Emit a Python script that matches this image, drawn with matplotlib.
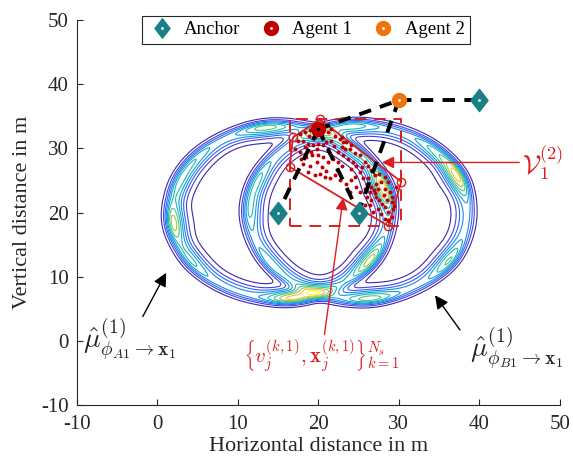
import numpy as np
import matplotlib.pyplot as plt
from matplotlib.colors import LinearSegmentedColormap
from matplotlib.path import Path
from matplotlib.lines import Line2D

plt.rcParams['font.family'] = ['Liberation Serif', 'DejaVu Serif']
plt.rcParams['mathtext.fontset'] = 'cm'
plt.rcParams['axes.unicode_minus'] = False

# node positions
anchor_x = [15, 25, 40]
anchor_y = [20, 20, 37.5]
agent1_xy = [20, 33]
agent2_xy = [30, 37.5]

# dashed measurement links
link_x = [[20, 15], [20, 25], [20, 30], [30, 25], [30, 40]]
link_y = [[33, 20], [33, 20], [33, 37.5], [37.5, 20], [37.5, 37.5]]

# ring shaped messages (centred on anchors A and B)
ring_cx = [15.3, 25]
ring_cy = [20, 20]
ring_R = [13.4, 13.5]
ringA_deg = [187, 160, 143, 98, 47, 17, 326, 277, 214]
ringA_w = [0.45, 0.2, 0.15, 0.35, 0.25, 0.6, 0.45, 0.55, 0.2]
ringB_deg = [25, 45, 94, 158, 178, 216, 276, 326]
ringB_w = [0.55, 0.2, 0.25, 0.2, 0.2, 0.15, 0.35, 0.3]

# convex hull of the particles of agent 1
hull_x = [20.2, 30.3, 28.7, 16.45, 16.85]
hull_y = [34.5, 24.8, 17.9, 27.1, 31.7]

# particles
part_x = [18.3, 19.0, 17.7, 21.2, 22.1, 22.9, 18.7, 19.4, 20.0, 20.6, 21.0, 21.6, 22.7, 23.1,
          23.5, 18.3, 19.8, 21.2, 24.1, 23.3, 17.9, 18.5, 19.2, 20.0, 20.6, 18.1, 19.0, 19.8,
          20.4, 21.2, 21.8, 22.5, 22.9, 18.7, 19.6, 20.2, 20.8, 21.4, 22.1, 22.7, 23.5, 24.1,
          24.7, 23.9, 25.2, 25.8, 22.5, 23.1, 23.7, 24.3, 24.7, 25.2, 24.5, 23.9, 24.5, 25.2,
          25.8, 26.2, 25.4, 26.6, 27.0, 27.6, 28.3, 28.7, 27.8, 27.2, 26.6, 27.4, 28.3, 28.9,
          28.1, 27.2, 26.6, 27.6, 28.5, 29.1, 28.3, 27.4, 26.8, 27.8, 28.7, 29.1, 26.4, 26.0,
          25.8, 28.3, 17.5, 17.1, 17.7, 19.6, 20.4, 18.1, 25.6, 26.2, 26.4, 27.0, 26.0, 29.1,
          29.3, 28.7, 21.9, 22.3, 19.1, 20.9, 24.0, 26.9, 27.9, 29.6, 29.4, 18.9, 21.6, 23.0]
part_y = [32.5, 32.8, 32.3, 32.5, 32.0, 31.8, 30.7, 30.5, 30.7, 30.5, 31.0, 31.2, 31.5, 31.0,
          31.0, 30.2, 29.9, 29.9, 30.5, 29.9, 28.4, 28.6, 28.9, 28.9, 28.6, 27.6, 27.3, 27.9,
          27.1, 27.9, 28.4, 27.9, 27.3, 26.3, 25.8, 26.0, 25.5, 25.3, 25.8, 25.0, 24.5, 25.0,
          24.0, 23.2, 23.2, 23.7, 29.4, 28.9, 28.4, 27.9, 27.3, 26.3, 25.5, 29.9, 29.2, 28.9,
          27.9, 27.3, 27.1, 26.6, 25.8, 26.0, 25.5, 24.7, 24.7, 24.5, 24.0, 23.7, 23.7, 23.2,
          22.7, 22.4, 21.9, 21.9, 21.9, 21.6, 20.8, 20.6, 20.1, 19.8, 20.1, 19.3, 21.1, 22.4,
          21.1, 19.0, 31.2, 29.9, 29.4, 31.7, 32.0, 31.2, 25.3, 25.3, 23.2, 23.0, 24.5, 22.4,
          20.6, 18.8, 30.3, 26.6, 29.4, 26.5, 26.8, 23.5, 21.3, 23.9, 21.0, 32.0, 33.0, 30.2]

teal = (0.1, 0.5, 0.53)
red = (0.75, 0.0, 0.0)
orange = (0.93, 0.45, 0.05)
ann_red = (0.85, 0.12, 0.12)
dark = (0.15, 0.15, 0.15)

parula = LinearSegmentedColormap.from_list('parula', [
    (0.00, (0.24, 0.15, 0.66)), (0.15, (0.27, 0.30, 0.95)), (0.30, (0.13, 0.50, 0.95)),
    (0.45, (0.05, 0.65, 0.85)), (0.60, (0.16, 0.76, 0.65)), (0.72, (0.45, 0.79, 0.40)),
    (0.85, (0.85, 0.74, 0.24)), (0.93, (0.99, 0.80, 0.20)), (1.00, (0.98, 0.98, 0.08))])

diamond = Path([(0, 1), (0.77, 0), (0, -1), (-0.77, 0), (0, 1)],
               [Path.MOVETO, Path.LINETO, Path.LINETO, Path.LINETO, Path.CLOSEPOLY])

gx, gy = np.meshgrid(np.linspace(-5, 45, 500), np.linspace(0, 40, 420))


def ring(cx, cy, R, degs, ws, base=0.45):
    r = np.hypot(gx - cx, gy - cy)
    th = np.degrees(np.arctan2(gy - cy, gx - cx)) % 360
    amp = np.full_like(r, base)
    for d, w in zip(degs, ws):
        dth = (th - d + 180) % 360 - 180
        amp += w * np.exp(-dth ** 2 / (2 * 9 ** 2))
    dr = r - R
    prof = np.where(dr > 0, np.exp(-dr ** 2 / (2 * 0.65 ** 2)),
                    0.88 * np.exp(-dr ** 2 / (2 * 0.95 ** 2)) + 0.12 * np.exp(-dr ** 2 / (2 * 2.2 ** 2)))
    return amp * prof


Z = ring(ring_cx[0], ring_cy[0], ring_R[0], ringA_deg, ringA_w) + \
    ring(ring_cx[1], ring_cy[1], ring_R[1], ringB_deg, ringB_w)
Z = Z / Z.max()

fig = plt.figure(figsize=(5.73, 4.65), dpi=100)
ax = fig.add_axes([0.134, 0.129, 0.843, 0.828])

ax.contour(gx, gy, Z, levels=np.linspace(0.07, 0.95, 10), cmap=parula, linewidths=0.8, zorder=1)

# bounding box of the particles
bx0, bx1 = min(hull_x), max(hull_x)
by0, by1 = min(hull_y), max(hull_y)
ax.plot([bx0, bx1, bx1, bx0, bx0], [by0, by0, by1, by1, by0], ls=(0, (6, 4)), color=ann_red,
        lw=1.4, zorder=2)

ax.plot(hull_x + hull_x[:1], hull_y + hull_y[:1], color=ann_red, lw=1.3, zorder=3)
ax.plot(hull_x, hull_y, 'o', ms=6, mfc='none', mec=ann_red, mew=1.0, zorder=3)
ax.plot(part_x, part_y, 'o', ms=2.8, color=red, mec='none', zorder=3)

for lx, ly in zip(link_x, link_y):
    ax.plot(lx, ly, color='k', lw=2.8, ls=(0, (3.2, 2.4)), zorder=4)

ax.plot(anchor_x, anchor_y, ls='none', marker=diamond, ms=16, color=teal, zorder=5)
ax.plot(anchor_x, anchor_y, ls='none', marker='.', ms=2, color='w', zorder=6)
ax.plot(*agent1_xy, 'o', ms=10, color=red, zorder=5)
ax.plot(*agent1_xy, '.', ms=3, color='k', zorder=6)
ax.plot(*agent2_xy, 'o', ms=10, color=orange, zorder=5)
ax.plot(*agent2_xy, '.', ms=2, color='w', zorder=6)

# annotations
red_arrow = dict(arrowstyle='-|>', color=ann_red, lw=1.0, mutation_scale=18, shrinkA=0, shrinkB=0)
blk_arrow = dict(arrowstyle='-|>', color='k', lw=1.0, mutation_scale=20, shrinkA=0, shrinkB=0)
ax.annotate(r'$\mathcal{V}_1^{(2)}$', xy=(27.9, 27.8), xytext=(45.3, 27.8), ha='left', va='center',
            fontsize=19, color=ann_red, arrowprops=red_arrow, zorder=7)
ax.annotate(r'$\left\{v_j^{(k,1)},\mathbf{x}_j^{(k,1)}\right\}_{k=1}^{N_s}$', xy=(23.1, 22.3),
            xytext=(20.4, -2.3), ha='center', va='center', fontsize=15, color=ann_red,
            arrowprops=red_arrow, zorder=7)
ax.annotate('', xy=(1.1, 10.6), xytext=(-1.8, 3.8), arrowprops=blk_arrow)
ax.annotate('', xy=(34.5, 7.1), xytext=(37.6, 1.7), arrowprops=blk_arrow)
ax.text(-3.4, 0.3, r'$\hat{\mu}^{(1)}_{\phi_{A1}\rightarrow\mathbf{x}_1}$', ha='center', va='center',
        fontsize=20, color=dark)
ax.text(44.6, -1.1, r'$\hat{\mu}^{(1)}_{\phi_{B1}\rightarrow\mathbf{x}_1}$', ha='center', va='center',
        fontsize=20, color=dark)

ax.set_xlim(-10, 50)
ax.set_ylim(-10, 50)
ax.set_xticks(np.arange(-10, 51, 10))
ax.set_yticks(np.arange(-10, 51, 10))
for s in ['top', 'right']:
    ax.spines[s].set_visible(False)
for s in ['left', 'bottom']:
    ax.spines[s].set_color(dark)
    ax.spines[s].set_linewidth(0.8)
ax.tick_params(direction='in', length=4, labelsize=15, colors=dark)
ax.tick_params(axis='x', pad=7)
ax.tick_params(axis='y', pad=6)
ax.set_xlabel('Horizontal distance in m', fontsize=16, color=dark, labelpad=2)
ax.set_ylabel('Vertical distance in m', fontsize=16, color=dark, labelpad=6)

h_anchor = (Line2D([], [], ls='none', marker=diamond, ms=14, color=teal),
            Line2D([], [], ls='none', marker='.', ms=2, color='w'))
h_ag1 = (Line2D([], [], ls='none', marker='o', ms=10, color=red),
         Line2D([], [], ls='none', marker='.', ms=2, color='w'))
h_ag2 = (Line2D([], [], ls='none', marker='o', ms=10, color=orange),
         Line2D([], [], ls='none', marker='.', ms=2, color='w'))
leg = ax.legend([h_anchor, h_ag1, h_ag2], ['Anchor', 'Agent 1', 'Agent 2'], ncol=3,
                loc='upper center', bbox_to_anchor=(0.475, 1.036), fontsize=13.5, frameon=True,
                fancybox=False, edgecolor=dark, framealpha=1, borderpad=0.3,
                handletextpad=0.4, columnspacing=0.9, handlelength=1.5)
leg.get_frame().set_linewidth(0.8)

fig.savefig('out.png', dpi=100)
